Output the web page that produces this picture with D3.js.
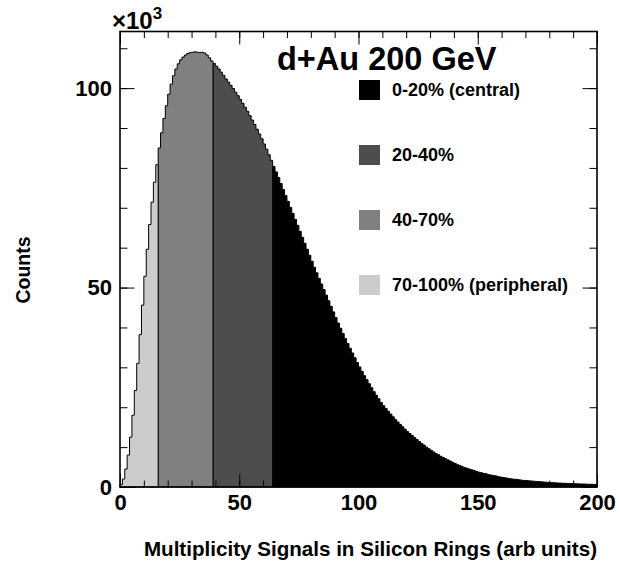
<!DOCTYPE html>
<html>
<head>
<meta charset="utf-8">
<script src="https://cdn.jsdelivr.net/npm/d3@7"></script>
<style>
  body { margin: 0; background: #fff; }
  svg { display: block; font-family: "Liberation Sans", Arial, Helvetica, sans-serif; }
  .axis path.domain { display: none; }
  .axis line { stroke: #000; stroke-width: 1; }
  .axis text { font-size: 22px; font-weight: bold; fill: #000; }
</style>
</head>
<body>
<svg id="chart" width="620" height="562"></svg>
<script>
// ---- data (counts in units of 10^3, one bin per unit of multiplicity, 0..200) ----
const binStart = 0;
const binWidth = 1;
const counts = [
  0.6, 2.0, 4.5, 8.0, 12.5, 18.0, 24.2, 31.0, 38.2, 45.6,
  52.8, 59.6, 65.8, 71.4, 76.4, 80.8, 85.0, 88.8, 92.4, 95.6,
  98.5, 101.0, 103.1, 104.8, 106.1, 107.1, 107.8, 108.3, 108.7, 108.9,
  109.0, 109.1, 109.0, 108.9, 109.0, 108.8, 108.3, 107.6, 106.8, 106.2,
  105.5, 104.8, 104.0, 103.2, 102.3, 101.5, 100.7, 99.9, 99.0, 98.1,
  97.2, 96.2, 95.2, 94.2, 93.1, 92.0, 90.9, 89.7, 88.5, 87.3,
  86.0, 84.7, 83.3, 81.9, 80.4, 79.0, 77.6, 76.1, 74.6, 73.1,
  71.6, 70.1, 68.6, 67.1, 65.6, 64.1, 62.6, 61.1, 59.6, 58.1,
  56.6, 55.1, 53.7, 52.3, 50.9, 49.5, 48.1, 46.7, 45.3, 43.9,
  42.5, 41.1, 39.8, 38.5, 37.2, 36.0, 34.8, 33.6, 32.4, 31.2,
  30.1, 29.0, 27.9, 26.9, 25.9, 24.9, 23.9, 23.0, 22.1, 21.2,
  20.4, 19.7, 19.0, 18.3, 17.6, 16.9, 16.3, 15.7, 15.1, 14.5,
  13.9, 13.4, 12.9, 12.4, 11.9, 11.4, 10.9, 10.5, 10.0, 9.6,
  9.2, 8.8, 8.4, 8.1, 7.7, 7.4, 7.1, 6.8, 6.5, 6.2,
  5.9, 5.6, 5.4, 5.1, 4.9, 4.7, 4.5, 4.3, 4.1, 3.9,
  3.7, 3.6, 3.4, 3.3, 3.1, 3.0, 2.9, 2.8, 2.6, 2.5,
  2.4, 2.3, 2.2, 2.1, 2.0, 1.95, 1.9, 1.8, 1.7, 1.65,
  1.6, 1.55, 1.5, 1.45, 1.4, 1.35, 1.3, 1.25, 1.2, 1.15,
  1.1, 1.08, 1.05, 1.0, 0.98, 0.95, 0.92, 0.9, 0.87, 0.85,
  0.82, 0.8, 0.78, 0.76, 0.74, 0.72, 0.7, 0.68, 0.66, 0.64
];
// centrality classes: [lower edge, upper edge) in multiplicity units
const classNames = ["0-20% (central)", "20-40%", "40-70%", "70-100% (peripheral)"];
const classLow  = [64, 39, 16, 0];
const classHigh = [200, 64, 39, 16];
const xMajorTicks = [0, 50, 100, 150, 200];
const xMinorTicks = d3.range(0, 201, 10);
const yMajorTicks = [0, 50, 100];
const yMinorTicks = d3.range(0, 114, 10);
const titleText = "d+Au 200 GeV";
const xTitle = "Multiplicity Signals in Silicon Rings (arb units)";
const yTitle = "Counts";

// ---- style ----
const classColors = ["#000000", "#4d4d4d", "#808080", "#cccccc"];

const svg = d3.select("#chart");
const L = 120, R = 597, T = 31.5, B = 487;
const x = d3.scaleLinear().domain([0, 200]).range([L, R]);
const y = d3.scaleLinear().domain([0, 114.2]).range([B, T]);

// histogram regions
classNames.forEach((name, k) => {
  const lo = classLow[k], hi = classHigh[k];
  const pts = [[x(lo), y(0)]];
  for (let i = 0; i < counts.length; i++) {
    const e0 = binStart + i * binWidth, e1 = e0 + binWidth;
    if (e0 < lo || e1 > hi) continue;
    pts.push([x(e0), y(counts[i])]);
    pts.push([x(e1), y(counts[i])]);
  }
  pts.push([x(hi), y(0)]);
  svg.append("path")
    .attr("d", d3.line()(pts) + "Z")
    .attr("fill", classColors[k])
    .attr("stroke", "#000")
    .attr("stroke-width", 1)
    .attr("stroke-linejoin", "miter");
});

// axes (ticks inward, ROOT style)
svg.append("g").attr("class", "axis").attr("transform", `translate(0,${B})`)
  .call(d3.axisBottom(x).tickValues(xMinorTicks).tickSize(-6.5).tickFormat(""));
svg.append("g").attr("class", "axis").attr("transform", `translate(0,${B})`)
  .call(d3.axisBottom(x).tickValues(xMajorTicks).tickSizeInner(-13).tickSizeOuter(0).tickPadding(7).tickFormat(d3.format("d")));
svg.append("g").attr("class", "axis").attr("transform", `translate(0,${T})`)
  .call(d3.axisTop(x).tickValues(xMinorTicks).tickSize(-6.5).tickFormat(""));
svg.append("g").attr("class", "axis").attr("transform", `translate(0,${T})`)
  .call(d3.axisTop(x).tickValues(xMajorTicks).tickSize(-13).tickFormat(""));

svg.append("g").attr("class", "axis").attr("transform", `translate(${L},0)`)
  .call(d3.axisLeft(y).tickValues(yMinorTicks).tickSize(-7.5).tickFormat(""));
svg.append("g").attr("class", "axis").attr("transform", `translate(${L},0)`)
  .call(d3.axisLeft(y).tickValues(yMajorTicks).tickSizeInner(-14.5).tickSizeOuter(0).tickPadding(8).tickFormat(d3.format("d")));
svg.append("g").attr("class", "axis").attr("transform", `translate(${R},0)`)
  .call(d3.axisRight(y).tickValues(yMinorTicks).tickSize(-7.5).tickFormat(""));
svg.append("g").attr("class", "axis").attr("transform", `translate(${R},0)`)
  .call(d3.axisRight(y).tickValues(yMajorTicks).tickSize(-14.5).tickFormat(""));

// frame
svg.append("rect").attr("x", L).attr("y", T).attr("width", R - L).attr("height", B - T)
  .attr("fill", "none").attr("stroke", "#000").attr("stroke-width", 1.6);

// exponent label
const ex = svg.append("text").attr("x", 112).attr("y", 28.5)
  .attr("font-size", 24).attr("font-weight", "bold");
ex.append("tspan").text("\u00d710");
ex.append("tspan").attr("font-size", 17).attr("dy", -10).text("3");

// title
svg.append("text").attr("x", 277).attr("y", 70)
  .attr("font-size", 32.5).attr("font-weight", "bold").text(titleText);

// legend
classNames.forEach((name, k) => {
  const cy = 90 + k * 65;
  svg.append("rect").attr("x", 359).attr("y", cy - 10).attr("width", 21).attr("height", 20)
    .attr("fill", classColors[k]);
  svg.append("text").attr("x", 392).attr("y", cy).attr("dy", "0.36em")
    .attr("font-size", 18).attr("font-weight", "bold").text(name);
});

// axis titles
svg.append("text").attr("x", R).attr("y", 556).attr("text-anchor", "end")
  .attr("font-size", 20.6).attr("font-weight", "bold").text(xTitle);
svg.append("text").attr("transform", "translate(30,270) rotate(-90)")
  .attr("text-anchor", "middle").attr("font-size", 19.5).attr("font-weight", "bold").text(yTitle);
</script>
</body>
</html>
